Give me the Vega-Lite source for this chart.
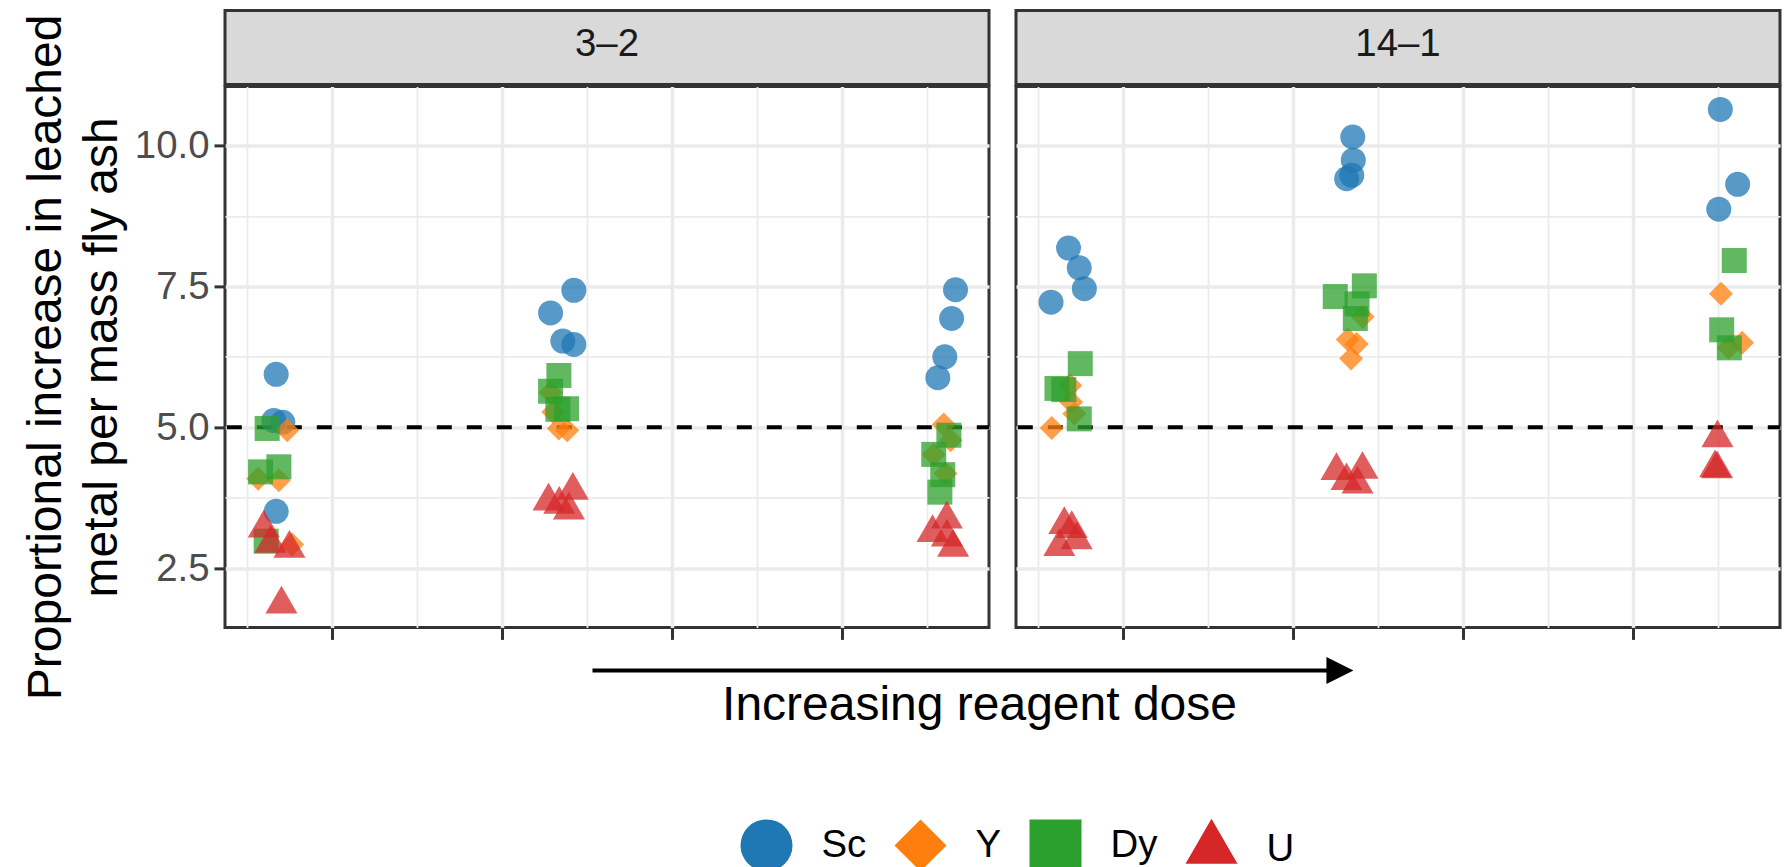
{
  "$schema": "https://vega.github.io/schema/vega-lite/v6.json",
  "autosize": {"type": "pad"},
  "padding": {"left": 20, "top": 8.4, "right": 4, "bottom": 0},
  "config": {
    "font": "Liberation Sans",
    "view": {"stroke": "#333333", "strokeWidth": 3},
    "point": {"filled": true, "strokeWidth": 0, "opacity": 0.75},
    "legend": {
      "title": null, "orient": "none", "legendX": 515.5, "legendY": 809, "direction": "horizontal",
      "symbolSize": 2704, "symbolOpacity": 1, "symbolStrokeWidth": 0,
      "labelFontSize": 38.4, "labelColor": "black", "labelOffset": 29, "columnPadding": 28
    }
  },
  "datasets": {
    "points": [
      {"panel": "3–2", "dose": 0.669, "element": "Sc", "value": 5.94},
      {"panel": "3–2", "dose": 0.655, "element": "Sc", "value": 5.12},
      {"panel": "3–2", "dose": 0.708, "element": "Sc", "value": 5.09},
      {"panel": "3–2", "dose": 0.669, "element": "Sc", "value": 3.51},
      {"panel": "3–2", "dose": 2.420, "element": "Sc", "value": 7.43},
      {"panel": "3–2", "dose": 2.283, "element": "Sc", "value": 7.03},
      {"panel": "3–2", "dose": 2.355, "element": "Sc", "value": 6.53},
      {"panel": "3–2", "dose": 2.420, "element": "Sc", "value": 6.47},
      {"panel": "3–2", "dose": 4.665, "element": "Sc", "value": 7.44},
      {"panel": "3–2", "dose": 4.642, "element": "Sc", "value": 6.93},
      {"panel": "3–2", "dose": 4.602, "element": "Sc", "value": 6.25},
      {"panel": "3–2", "dose": 4.561, "element": "Sc", "value": 5.88},
      {"panel": "3–2", "dose": 0.734, "element": "Y", "value": 4.95},
      {"panel": "3–2", "dose": 0.563, "element": "Y", "value": 4.09},
      {"panel": "3–2", "dose": 0.685, "element": "Y", "value": 4.06},
      {"panel": "3–2", "dose": 0.763, "element": "Y", "value": 2.92},
      {"panel": "3–2", "dose": 2.283, "element": "Y", "value": 5.62},
      {"panel": "3–2", "dose": 2.299, "element": "Y", "value": 5.27},
      {"panel": "3–2", "dose": 2.332, "element": "Y", "value": 4.98},
      {"panel": "3–2", "dose": 2.381, "element": "Y", "value": 4.95},
      {"panel": "3–2", "dose": 4.596, "element": "Y", "value": 5.05},
      {"panel": "3–2", "dose": 4.636, "element": "Y", "value": 4.77},
      {"panel": "3–2", "dose": 4.606, "element": "Y", "value": 4.18},
      {"panel": "3–2", "dose": 4.537, "element": "Y", "value": 4.52},
      {"panel": "3–2", "dose": 0.616, "element": "Dy", "value": 4.98},
      {"panel": "3–2", "dose": 0.685, "element": "Dy", "value": 4.30},
      {"panel": "3–2", "dose": 0.577, "element": "Dy", "value": 4.21},
      {"panel": "3–2", "dose": 0.610, "element": "Dy", "value": 2.98},
      {"panel": "3–2", "dose": 2.332, "element": "Dy", "value": 5.92},
      {"panel": "3–2", "dose": 2.283, "element": "Dy", "value": 5.64},
      {"panel": "3–2", "dose": 2.377, "element": "Dy", "value": 5.33},
      {"panel": "3–2", "dose": 2.326, "element": "Dy", "value": 5.32},
      {"panel": "3–2", "dose": 4.626, "element": "Dy", "value": 4.86},
      {"panel": "3–2", "dose": 4.537, "element": "Dy", "value": 4.52},
      {"panel": "3–2", "dose": 4.590, "element": "Dy", "value": 4.16},
      {"panel": "3–2", "dose": 4.573, "element": "Dy", "value": 3.85},
      {"panel": "3–2", "dose": 0.596, "element": "U", "value": 3.21},
      {"panel": "3–2", "dose": 0.636, "element": "U", "value": 2.94},
      {"panel": "3–2", "dose": 0.747, "element": "U", "value": 2.85},
      {"panel": "3–2", "dose": 0.700, "element": "U", "value": 1.86},
      {"panel": "3–2", "dose": 2.271, "element": "U", "value": 3.69},
      {"panel": "3–2", "dose": 2.334, "element": "U", "value": 3.63},
      {"panel": "3–2", "dose": 2.414, "element": "U", "value": 3.88},
      {"panel": "3–2", "dose": 2.391, "element": "U", "value": 3.53},
      {"panel": "3–2", "dose": 4.530, "element": "U", "value": 3.13},
      {"panel": "3–2", "dose": 4.614, "element": "U", "value": 3.37},
      {"panel": "3–2", "dose": 4.614, "element": "U", "value": 3.05},
      {"panel": "3–2", "dose": 4.651, "element": "U", "value": 2.87},
      {"panel": "14–1", "dose": 0.677, "element": "Sc", "value": 8.18},
      {"panel": "14–1", "dose": 0.740, "element": "Sc", "value": 7.83},
      {"panel": "14–1", "dose": 0.770, "element": "Sc", "value": 7.46},
      {"panel": "14–1", "dose": 0.574, "element": "Sc", "value": 7.22},
      {"panel": "14–1", "dose": 2.349, "element": "Sc", "value": 10.15},
      {"panel": "14–1", "dose": 2.352, "element": "Sc", "value": 9.74},
      {"panel": "14–1", "dose": 2.343, "element": "Sc", "value": 9.47},
      {"panel": "14–1", "dose": 2.313, "element": "Sc", "value": 9.41},
      {"panel": "14–1", "dose": 4.511, "element": "Sc", "value": 10.64},
      {"panel": "14–1", "dose": 4.613, "element": "Sc", "value": 9.31},
      {"panel": "14–1", "dose": 4.502, "element": "Sc", "value": 8.87},
      {"panel": "14–1", "dose": 0.578, "element": "Y", "value": 4.99},
      {"panel": "14–1", "dose": 0.687, "element": "Y", "value": 5.74},
      {"panel": "14–1", "dose": 0.692, "element": "Y", "value": 5.45},
      {"panel": "14–1", "dose": 0.711, "element": "Y", "value": 5.24},
      {"panel": "14–1", "dose": 2.407, "element": "Y", "value": 6.96},
      {"panel": "14–1", "dose": 2.319, "element": "Y", "value": 6.56},
      {"panel": "14–1", "dose": 2.372, "element": "Y", "value": 6.48},
      {"panel": "14–1", "dose": 2.339, "element": "Y", "value": 6.22},
      {"panel": "14–1", "dose": 4.515, "element": "Y", "value": 7.37},
      {"panel": "14–1", "dose": 4.639, "element": "Y", "value": 6.50},
      {"panel": "14–1", "dose": 4.560, "element": "Y", "value": 6.41},
      {"panel": "14–1", "dose": 0.746, "element": "Dy", "value": 6.13},
      {"panel": "14–1", "dose": 0.609, "element": "Dy", "value": 5.69},
      {"panel": "14–1", "dose": 0.649, "element": "Dy", "value": 5.67},
      {"panel": "14–1", "dose": 0.740, "element": "Dy", "value": 5.15},
      {"panel": "14–1", "dose": 2.417, "element": "Dy", "value": 7.51},
      {"panel": "14–1", "dose": 2.246, "element": "Dy", "value": 7.32},
      {"panel": "14–1", "dose": 2.374, "element": "Dy", "value": 7.19},
      {"panel": "14–1", "dose": 2.364, "element": "Dy", "value": 6.93},
      {"panel": "14–1", "dose": 4.593, "element": "Dy", "value": 7.96},
      {"panel": "14–1", "dose": 4.519, "element": "Dy", "value": 6.73},
      {"panel": "14–1", "dose": 4.564, "element": "Dy", "value": 6.41},
      {"panel": "14–1", "dose": 0.652, "element": "U", "value": 3.27},
      {"panel": "14–1", "dose": 0.696, "element": "U", "value": 3.20},
      {"panel": "14–1", "dose": 0.725, "element": "U", "value": 3.00},
      {"panel": "14–1", "dose": 0.623, "element": "U", "value": 2.88},
      {"panel": "14–1", "dose": 2.253, "element": "U", "value": 4.23},
      {"panel": "14–1", "dose": 2.312, "element": "U", "value": 4.05},
      {"panel": "14–1", "dose": 2.406, "element": "U", "value": 4.25},
      {"panel": "14–1", "dose": 2.377, "element": "U", "value": 3.99},
      {"panel": "14–1", "dose": 4.494, "element": "U", "value": 4.81},
      {"panel": "14–1", "dose": 4.480, "element": "U", "value": 4.28},
      {"panel": "14–1", "dose": 4.492, "element": "U", "value": 4.26}
    ],
    "reference": [{"threshold": 5}],
    "annotation": [{"from": 0.481, "to": 1.477, "label": "Increasing reagent dose"}]
  },
  "columns": 2,
  "align": "each",
  "bounds": "flush",
  "spacing": {"row": 2, "column": 27},
  "resolve": {"scale": {"x": "independent", "y": "independent"}},
  "concat": [
    {
      "width": 764, "height": 74,
      "view": {"fill": "#D9D9D9", "stroke": "#333333", "strokeWidth": 3},
      "data": {"values": [{"panel": "3–2"}]},
      "mark": {"type": "text", "fontSize": 38.4, "color": "#1A1A1A", "baseline": "middle", "dy": -3},
      "encoding": {
        "x": {"field": "panel", "type": "nominal", "axis": null},
        "y": {"field": "panel", "type": "nominal", "axis": null},
        "text": {"field": "panel"}
      }
    },
    {
      "width": 764, "height": 74,
      "view": {"fill": "#D9D9D9", "stroke": "#333333", "strokeWidth": 3},
      "data": {"values": [{"panel": "14–1"}]},
      "mark": {"type": "text", "fontSize": 38.4, "color": "#1A1A1A", "baseline": "middle", "dy": -3},
      "encoding": {
        "x": {"field": "panel", "type": "nominal", "axis": null},
        "y": {"field": "panel", "type": "nominal", "axis": null},
        "text": {"field": "panel"}
      }
    },
    {
      "width": 764, "height": 541,
      "layer": [
        {
          "data": {"name": "reference"},
          "mark": {"type": "rule", "color": "black", "strokeWidth": 4, "strokeDash": [15, 15], "strokeDashOffset": 2.8},
          "encoding": {
            "y": {"field": "threshold", "type": "quantitative", "scale": {"domain": [1.451, 11.048], "nice": false, "zero": false}}
          }
        },
        {
          "data": {"name": "points"},
          "transform": [{"filter": "datum.panel === '3–2'"}],
          "encoding": {
            "x": {
              "field": "dose", "type": "quantitative",
              "scale": {"domain": [0.368, 4.862], "nice": false, "zero": false},
              "axis": {
                "title": null, "labels": false, "domain": false,
                "values": [0.5, 1, 1.5, 2, 2.5, 3, 3.5, 4, 4.5],
                "grid": true, "gridColor": "#EBEBEB",
                "gridWidth": {"condition": {"test": "datum.value % 1 === 0", "value": 3.5}, "value": 1.8},
                "tickSize": 12, "tickWidth": 3, "tickColor": "#333333",
                "tickOpacity": {"condition": {"test": "datum.value % 1 === 0", "value": 1}, "value": 0}
              }
            },
            "y": {
              "field": "value", "type": "quantitative",
              "scale": {"domain": [1.451, 11.048], "nice": false, "zero": false},
              "axis": {
                "title": ["Proportional increase in leached", "metal per mass fly ash"],
                "titleFontSize": 48, "titleFontWeight": "normal", "titleColor": "black",
                "titleLineHeight": 56, "titlePadding": 8,
                "values": [2.5, 3.75, 5, 6.25, 7.5, 8.75, 10],
                "labelExpr": "datum.value % 2.5 === 0 ? format(datum.value, '.1f') : ''",
                "labelFontSize": 38.4, "labelColor": "#4D4D4D", "labelPadding": 5, "labelOverlap": false,
                "tickSize": 11, "tickWidth": 3, "tickColor": "#333333",
                "tickOpacity": {"condition": {"test": "datum.value % 2.5 === 0", "value": 1}, "value": 0},
                "domain": false, "grid": true, "gridColor": "#EBEBEB",
                "gridWidth": {"condition": {"test": "datum.value % 2.5 === 0", "value": 3.5}, "value": 1.8}
              }
            },
            "color": {
              "field": "element", "type": "nominal",
              "scale": {"domain": ["Sc", "Y", "Dy", "U"], "range": ["#1F77B4", "#FF7F0E", "#2CA02C", "#D62728"]},
              "legend": {
                "encode": {"symbols": {"size": {"signal": "datum.value === 'U' ? 2704 : datum.value === 'Dy' ? 1600 : 1521"}}}
              }
            },
            "shape": {
              "field": "element", "type": "nominal",
              "scale": {"domain": ["Sc", "Y", "Dy", "U"], "range": ["circle", "diamond", "square", "M0,-1.155L1,0.577L-1,0.577Z"]},
              "legend": {
                "encode": {"symbols": {"size": {"signal": "datum.value === 'U' ? 2704 : datum.value === 'Dy' ? 1600 : 1521"}}}
              }
            }
          },
          "layer": [
            {"transform": [{"filter": "datum.element === 'Sc'"}], "mark": {"type": "point", "size": 625}},
            {"transform": [{"filter": "datum.element === 'Y'"}], "mark": {"type": "point", "size": 576}},
            {"transform": [{"filter": "datum.element === 'Dy'"}], "mark": {"type": "point", "size": 625}},
            {"transform": [{"filter": "datum.element === 'U'"}], "mark": {"type": "point", "size": 1024}}
          ]
        }
      ]
    },
    {
      "width": 764, "height": 541,
      "layer": [
        {
          "data": {"name": "reference"},
          "mark": {"type": "rule", "color": "black", "strokeWidth": 4, "strokeDash": [15, 15], "strokeDashOffset": 2.8},
          "encoding": {
            "y": {"field": "threshold", "type": "quantitative", "scale": {"domain": [1.451, 11.048], "nice": false, "zero": false}}
          }
        },
        {
          "data": {"name": "points"},
          "transform": [{"filter": "datum.panel === '14–1'"}],
          "encoding": {
            "x": {
              "field": "dose", "type": "quantitative",
              "scale": {"domain": [0.368, 4.862], "nice": false, "zero": false},
              "axis": {
                "title": null, "labels": false, "domain": false,
                "values": [0.5, 1, 1.5, 2, 2.5, 3, 3.5, 4, 4.5],
                "grid": true, "gridColor": "#EBEBEB",
                "gridWidth": {"condition": {"test": "datum.value % 1 === 0", "value": 3.5}, "value": 1.8},
                "tickSize": 12, "tickWidth": 3, "tickColor": "#333333",
                "tickOpacity": {"condition": {"test": "datum.value % 1 === 0", "value": 1}, "value": 0}
              }
            },
            "y": {
              "field": "value", "type": "quantitative",
              "scale": {"domain": [1.451, 11.048], "nice": false, "zero": false},
              "axis": {
                "title": null, "labels": false, "ticks": false, "domain": false,
                "values": [2.5, 3.75, 5, 6.25, 7.5, 8.75, 10],
                "grid": true, "gridColor": "#EBEBEB",
                "gridWidth": {"condition": {"test": "datum.value % 2.5 === 0", "value": 3.5}, "value": 1.8}
              }
            },
            "color": {
              "field": "element", "type": "nominal",
              "scale": {"domain": ["Sc", "Y", "Dy", "U"], "range": ["#1F77B4", "#FF7F0E", "#2CA02C", "#D62728"]},
              "legend": {
                "encode": {"symbols": {"size": {"signal": "datum.value === 'U' ? 2704 : datum.value === 'Dy' ? 1600 : 1521"}}}
              }
            },
            "shape": {
              "field": "element", "type": "nominal",
              "scale": {"domain": ["Sc", "Y", "Dy", "U"], "range": ["circle", "diamond", "square", "M0,-1.155L1,0.577L-1,0.577Z"]},
              "legend": {
                "encode": {"symbols": {"size": {"signal": "datum.value === 'U' ? 2704 : datum.value === 'Dy' ? 1600 : 1521"}}}
              }
            }
          },
          "layer": [
            {"transform": [{"filter": "datum.element === 'Sc'"}], "mark": {"type": "point", "size": 625}},
            {"transform": [{"filter": "datum.element === 'Y'"}], "mark": {"type": "point", "size": 576}},
            {"transform": [{"filter": "datum.element === 'Dy'"}], "mark": {"type": "point", "size": 625}},
            {"transform": [{"filter": "datum.element === 'U'"}], "mark": {"type": "point", "size": 1024}}
          ]
        }
      ]
    },
    {
      "width": 764, "height": 132,
      "view": {"stroke": null},
      "data": {"name": "annotation"},
      "layer": [
        {
          "mark": {"type": "rule", "color": "black", "strokeWidth": 4, "x2Offset": -10},
          "encoding": {
            "x": {"field": "from", "type": "quantitative", "scale": {"domain": [0, 1], "nice": false, "zero": false}, "axis": null},
            "x2": {"field": "to"},
            "y": {"datum": "arrow", "type": "nominal", "scale": {"type": "point", "domain": ["arrow", "label"], "padding": 0.828}, "axis": null}
          }
        },
        {
          "mark": {"type": "point", "shape": "M0,0L-2,-1L-2,1Z", "filled": true, "color": "black", "opacity": 1, "size": 729, "strokeWidth": 0},
          "encoding": {
            "x": {"field": "to", "type": "quantitative"},
            "y": {"datum": "arrow", "type": "nominal"}
          }
        },
        {
          "mark": {"type": "text", "fontSize": 48, "color": "black", "baseline": "alphabetic", "align": "center"},
          "encoding": {
            "x": {"datum": 0.9876, "type": "quantitative"},
            "y": {"datum": "label", "type": "nominal"},
            "text": {"field": "label"}
          }
        }
      ]
    }
  ]
}
